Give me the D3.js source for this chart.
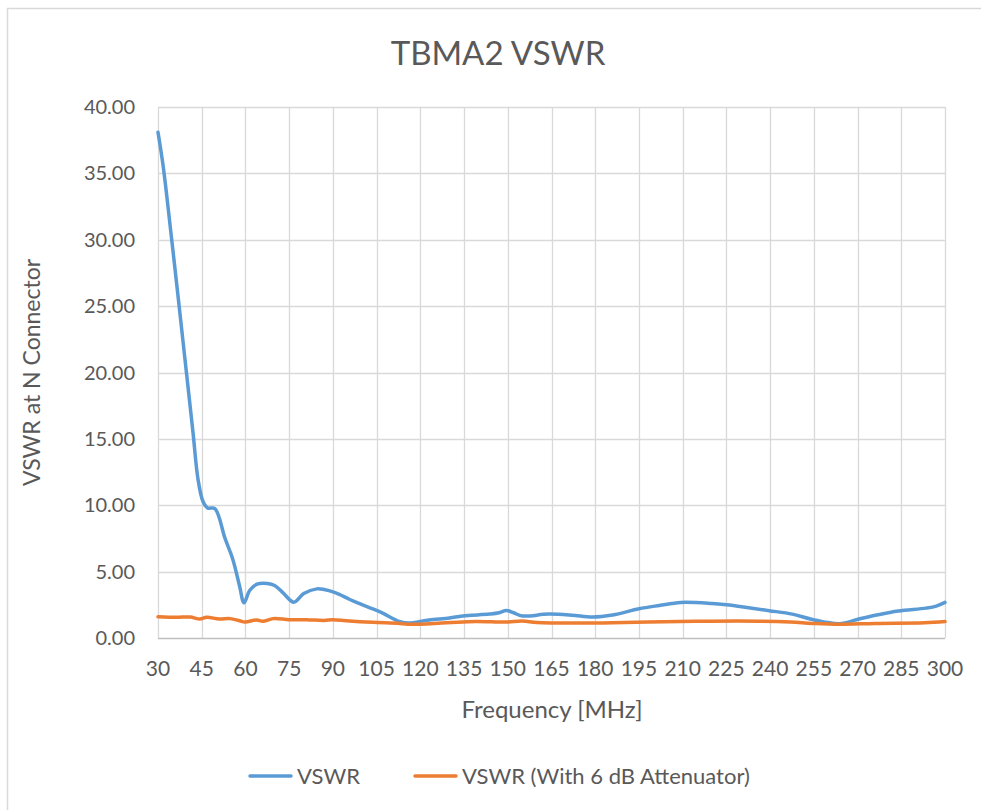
<!DOCTYPE html>
<html>
<head>
<meta charset="utf-8">
<script src="https://cdn.jsdelivr.net/npm/d3@7"></script>
<style>
  body { margin: 0; background: #fff; }
  text { font-family: Lato, "Open Sans", sans-serif; fill: #595959; }
</style>
</head>
<body>
<script>
// Data
var vswrFreq = [30, 31.8, 34.5, 37, 39, 42, 43.7, 45.4, 47, 49.5, 53, 55.7, 58, 59.5, 61.5, 64, 67.5, 70, 72.9, 76.6, 80, 84.5, 87, 91, 95.8, 99, 106, 113, 116, 123, 130, 134.5, 143.7, 147, 149.5, 152, 155, 164, 172, 179, 186, 195, 202, 209.4, 220, 225, 232, 239.7, 247.6, 254.5, 263.7, 270.5, 277, 284, 293.5, 297, 300];
var vswrVal  = [38.1, 35.5, 30.4, 25.5, 21.5, 15.5, 12.0, 10.3, 9.8, 9.75, 7.5, 5.9, 3.9, 2.65, 3.6, 4.05, 4.1, 3.95, 3.4, 2.7, 3.35, 3.7, 3.65, 3.4, 2.9, 2.6, 1.98, 1.23, 1.13, 1.36, 1.5, 1.66, 1.8, 1.9, 2.08, 1.9, 1.66, 1.8, 1.72, 1.58, 1.73, 2.2, 2.45, 2.68, 2.6, 2.5, 2.3, 2.06, 1.8, 1.4, 1.08, 1.43, 1.75, 2.03, 2.25, 2.4, 2.68];

var attFreq = [30, 36.4, 41, 44.4, 46.7, 51, 54.7, 58, 59.8, 63.8, 66, 69.5, 75, 81, 87, 90, 94.6, 103.7, 113, 115.7, 129, 139, 149.5, 155, 160, 174.6, 190, 209, 219, 236, 247, 254.5, 263.7, 276, 293, 300];
var attVal  = [1.6, 1.56, 1.58, 1.43, 1.56, 1.43, 1.46, 1.3, 1.2, 1.36, 1.26, 1.46, 1.38, 1.38, 1.32, 1.38, 1.3, 1.18, 1.1, 1.03, 1.15, 1.25, 1.2, 1.28, 1.17, 1.13, 1.17, 1.24, 1.27, 1.27, 1.2, 1.1, 1.03, 1.1, 1.15, 1.24];

var xTicks = d3.range(30, 301, 15);
var yTicks = [0, 5, 10, 15, 20, 25, 30, 35, 40];
var seriesNames = ["VSWR", "VSWR (With 6 dB Attenuator)"];
var seriesColors = ["#5B9BD5", "#ED7D31"];

var W = 981, H = 810;
var plotL = 158, plotR = 945, plotT = 107, plotB = 638;

var svg = d3.select("body").append("svg")
  .attr("width", W)
  .attr("height", H);

// chart frame
svg.append("rect")
  .attr("x", 7.5).attr("y", 8.5)
  .attr("width", 990).attr("height", 820)
  .attr("fill", "#fff")
  .attr("stroke", "#D9D9D9")
  .attr("stroke-width", 1.5);

var x = d3.scaleLinear().domain([30, 300]).range([plotL, plotR]);
var y = d3.scaleLinear().domain([0, 40]).range([plotB, plotT]);

// gridlines
svg.append("g").selectAll("line")
  .data(yTicks.slice(1))
  .enter().append("line")
  .attr("x1", plotL).attr("x2", plotR)
  .attr("y1", function (d) { return Math.round(y(d)) + 0.5; })
  .attr("y2", function (d) { return Math.round(y(d)) + 0.5; })
  .attr("stroke", "#D9D9D9").attr("stroke-width", 1.3);

svg.append("g").selectAll("line")
  .data(xTicks)
  .enter().append("line")
  .attr("x1", function (d) { return Math.round(x(d)) + 0.5; })
  .attr("x2", function (d) { return Math.round(x(d)) + 0.5; })
  .attr("y1", plotT).attr("y2", plotB)
  .attr("stroke", "#D9D9D9").attr("stroke-width", 1.3);

// bottom axis line
svg.append("line")
  .attr("x1", plotL).attr("x2", plotR)
  .attr("y1", plotB + 0.5).attr("y2", plotB + 0.5)
  .attr("stroke", "#BFBFBF").attr("stroke-width", 1.5);

// tick labels
svg.append("g").selectAll("text")
  .data(yTicks)
  .enter().append("text")
  .attr("x", 135)
  .attr("y", function (d) { return y(d); })
  .attr("dy", "0.35em")
  .attr("text-anchor", "end")
  .style("font-size", "20px")
  .text(function (d) { return d3.format(".2f")(d); });

svg.append("g").selectAll("text")
  .data(xTicks)
  .enter().append("text")
  .attr("x", function (d) { return x(d); })
  .attr("y", 676)
  .attr("text-anchor", "middle")
  .style("font-size", "21px")
  .text(function (d) { return d; });

// titles
svg.append("text")
  .attr("x", 498).attr("y", 65)
  .attr("text-anchor", "middle")
  .style("font-size", "33px")
  .text("TBMA2 VSWR");

svg.append("text")
  .attr("x", 552).attr("y", 718)
  .attr("text-anchor", "middle")
  .style("font-size", "24px")
  .text("Frequency [MHz]");

svg.append("text")
  .attr("transform", "translate(40," + ((plotT + plotB) / 2) + ") rotate(-90)")
  .attr("text-anchor", "middle")
  .style("font-size", "23px")
  .text("VSWR at N Connector");

// series
var line = d3.line()
  .x(function (d) { return x(d[0]); })
  .y(function (d) { return y(d[1]); })
  .curve(d3.curveCatmullRom.alpha(0.5));

var series = [d3.zip(vswrFreq, vswrVal), d3.zip(attFreq, attVal)];

svg.append("g").selectAll("path")
  .data(series)
  .enter().append("path")
  .attr("d", line)
  .attr("fill", "none")
  .attr("stroke", function (d, i) { return seriesColors[i]; })
  .attr("stroke-width", 3.5)
  .attr("stroke-linejoin", "round")
  .attr("stroke-linecap", "round");

// legend
var legendX = [250, 415];
var legend = svg.selectAll(".legend")
  .data(seriesNames)
  .enter().append("g")
  .attr("class", "legend")
  .attr("transform", function (d, i) { return "translate(" + legendX[i] + ",776)"; });

legend.append("line")
  .attr("x1", 0).attr("x2", 41)
  .attr("stroke", function (d, i) { return seriesColors[i]; })
  .attr("stroke-width", 3.5)
  .attr("stroke-linecap", "round");

legend.append("text")
  .attr("x", 47)
  .attr("dy", "0.35em")
  .style("font-size", "22px")
  .text(function (d) { return d; });
</script>
</body>
</html>
